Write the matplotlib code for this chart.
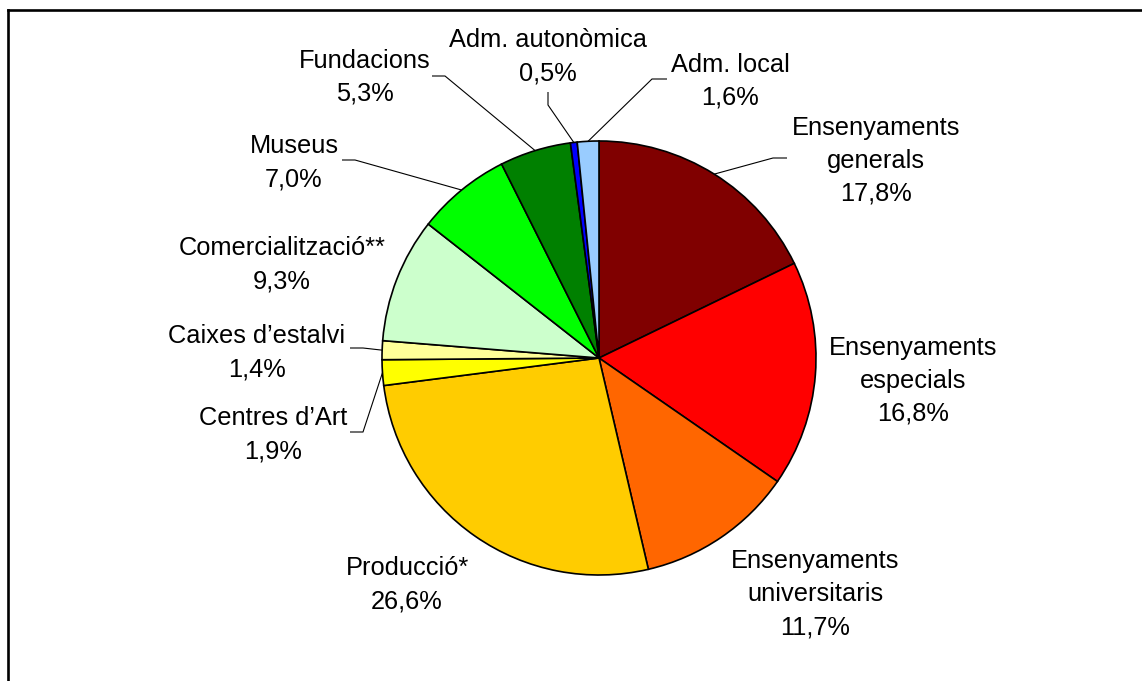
import numpy as np
import matplotlib
matplotlib.use("Agg")
import matplotlib.pyplot as plt
from matplotlib.lines import Line2D

plt.rcParams['font.family'] = ['Liberation Sans', 'DejaVu Sans']

# ---- data ----
categories = ["Ensenyaments\ngenerals", "Ensenyaments\nespecials", "Ensenyaments\nuniversitaris",
              "Producció*", "Centres d’Art", "Caixes d’estalvi", "Comercialització**",
              "Museus", "Fundacions", "Adm. autonòmica", "Adm. local"]
values = [17.8, 16.8, 11.7, 26.6, 1.9, 1.4, 9.3, 7.0, 5.3, 0.5, 1.6]
colors = ["#800000", "#FF0000", "#FF6600", "#FFCC00", "#FFFF00", "#FFFF99",
          "#CCFFCC", "#00FF00", "#008000", "#0000FF", "#99CCFF"]

# ---- layout (pixels) ----
W, H = 1142, 681
CX, CY, R = 599, 358, 217

def px(x, y):
    return (x - CX) / R, (CY - y) / R

# label first-line baseline positions (pixels) and leader-line elbows
label_pos = [(876, 135), (913, 355), (815, 568), (407, 575), (273, 425), (257, 343),
             (282, 255), (294, 153), (365, 68), (548, 47), (730, 72)]
leaders = {0: [(773, 158), (787, 158)],
           4: [(363, 432), (350, 432)],
           5: [(363, 348), (350, 348)],
           7: [(355, 160), (342, 160)],
           8: [(445, 76), (432, 76)],
           9: [(548, 105), (548, 92)],
           10: [(652, 79), (667, 79)]}

fig = plt.figure(figsize=(W / 100, H / 100), dpi=100)
ax = fig.add_axes([0, 0, 1, 1])
ax.pie(values, colors=colors, startangle=90, counterclock=False, radius=1,
       wedgeprops=dict(edgecolor="black", linewidth=1.2))
ax.set_aspect('auto')
ax.set_xlim(-CX / R, (W - CX) / R)
ax.set_ylim((CY - H) / R, CY / R)
ax.axis('off')

total = sum(values)
cum = np.cumsum([0] + values)
LS = 33  # line spacing in px
for i, (cat, v) in enumerate(zip(categories, values)):
    lines = cat.split("\n") + [f"{v:.1f}%".replace(".", ",")]
    bx, by = label_pos[i]
    for j, line in enumerate(lines):
        x, y = px(bx, by + j * LS)
        ax.text(x, y, line, ha='center', va='baseline', fontsize=18.3, color='black')
    if i in leaders:
        mid = (cum[i] + v / 2) / total * 2 * np.pi
        ax_pt = (np.sin(mid), np.cos(mid))
        pts = [ax_pt] + [px(*p) for p in leaders[i]]
        ax.plot([p[0] for p in pts], [p[1] for p in pts], color='black', lw=0.8,
                solid_capstyle='butt')

# frame lines (top and left)
fig.add_artist(Line2D([8 / W, 1], [1 - 9.5 / H, 1 - 9.5 / H], color='black', lw=1.9,
                      transform=fig.transFigure))
fig.add_artist(Line2D([8 / W, 8 / W], [0, 1 - 9.5 / H], color='black', lw=1.9,
                      transform=fig.transFigure))

fig.savefig("out.png", dpi=100)
